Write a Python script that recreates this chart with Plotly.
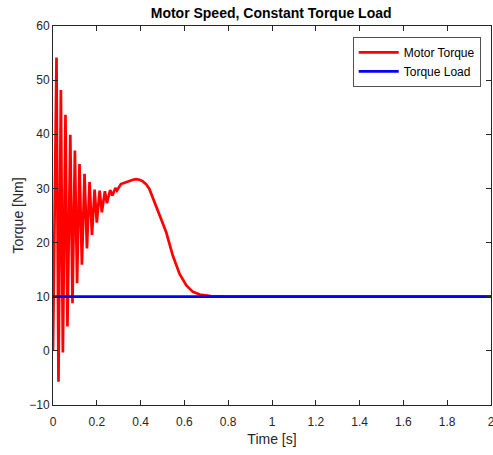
import plotly.graph_objects as go

# Motor torque: peaks / troughs of the start-up oscillation, then smooth curve
time_s = [0.0,
          0.016, 0.025, 0.036, 0.045, 0.057, 0.066, 0.079, 0.089, 0.100, 0.110,
          0.121, 0.132, 0.144, 0.155, 0.167, 0.178, 0.190, 0.200, 0.213, 0.223,
          0.237, 0.246, 0.261, 0.271, 0.285, 0.292,
          0.310, 0.330, 0.349, 0.365, 0.379, 0.395, 0.410, 0.425, 0.440, 0.456,
          0.470, 0.489, 0.517, 0.547, 0.578, 0.609, 0.639, 0.670, 0.720, 0.800,
          0.900, 2.0]
motor_torque = [0.0,
                54.2, -5.7, 48.2, -0.3, 43.6, 4.5, 39.9, 8.8, 37.0, 12.5,
                34.5, 15.9, 32.7, 18.9, 31.2, 21.4, 29.8, 23.7, 29.6, 25.6,
                29.5, 27.3, 29.7, 28.7, 30.1, 29.6,
                30.8, 31.1, 31.4, 31.6, 31.7, 31.6, 31.3, 30.8, 29.9, 28.2,
                26.6, 24.8, 21.9, 17.6, 14.2, 12.1, 10.9, 10.4, 10.1, 10.0,
                10.0, 10.0]

load_time = [0.0, 2.0]
torque_load = [10.0, 10.0]

x_ticks = [0, 0.2, 0.4, 0.6, 0.8, 1, 1.2, 1.4, 1.6, 1.8, 2]
y_ticks = [-10, 0, 10, 20, 30, 40, 50, 60]

axis_color = "#262626"
font_family = "Liberation Sans, Arial, Helvetica, sans-serif"

fig = go.Figure()
fig.add_trace(go.Scatter(x=time_s, y=motor_torque, mode="lines", name="Motor Torque",
                         line=dict(color="#ff0000", width=2.7)))
fig.add_trace(go.Scatter(x=load_time, y=torque_load, mode="lines", name="Torque Load",
                         line=dict(color="#0000ff", width=2.7)))

axis_common = dict(showgrid=False, zeroline=False, showline=True, linecolor=axis_color,
                   linewidth=0.8, mirror="ticks", ticks="inside", ticklen=5,
                   tickcolor=axis_color, tickwidth=0.8, automargin=False,
                   ticklabeloverflow="allow",
                   tickfont=dict(family=font_family, size=12, color=axis_color))

fig.update_xaxes(range=[0, 2], tickvals=x_ticks, ticklabelstandoff=6,
                 title=dict(text="Time [s]", font=dict(family=font_family, size=14, color=axis_color),
                            standoff=5),
                 **axis_common)
fig.update_yaxes(range=[-10, 60], tickvals=y_ticks,
                 title=dict(text="Torque [Nm]", font=dict(family=font_family, size=14, color=axis_color),
                            standoff=2),
                 **axis_common)

fig.update_layout(
    width=493, height=455,
    margin=dict(l=53, r=2, t=26, b=50),
    paper_bgcolor="white", plot_bgcolor="white",
    title=dict(text="<b>Motor Speed, Constant Torque Load</b>", x=0.55, xanchor="center",
               y=0.972, yanchor="middle",
               font=dict(family=font_family, size=14, color="#000000")),
    legend=dict(x=0.977, y=0.971, xanchor="right", yanchor="top",
                bgcolor="white", bordercolor=axis_color, borderwidth=0.8,
                font=dict(family=font_family, size=12, color="#000000"),
                tracegroupgap=0, itemwidth=40),
    showlegend=True,
)

fig.write_html("out.html", config={"displayModeBar": False},
               post_script="document.body.style.margin='0';")
